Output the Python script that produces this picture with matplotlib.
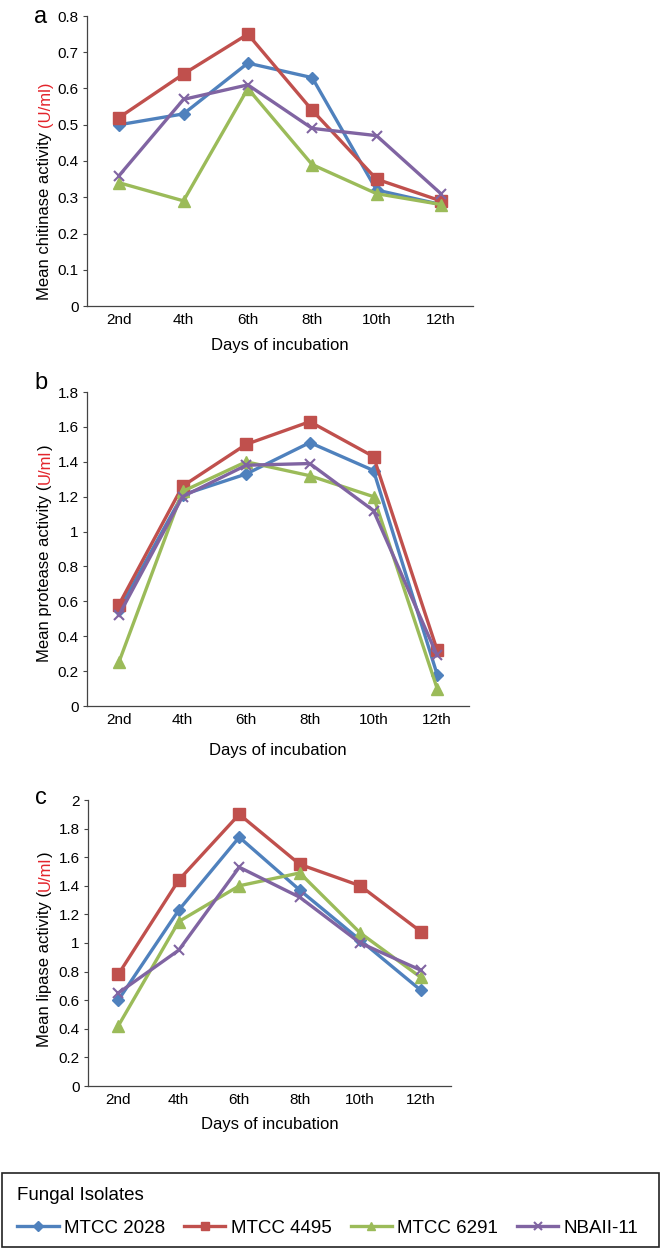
import matplotlib
matplotlib.use("Agg")
import matplotlib.pyplot as plt
from matplotlib.patches import Rectangle
from matplotlib.ticker import MultipleLocator

plt.rcParams['font.family'] = ['Liberation Sans', 'DejaVu Sans']

# Datos
dias = ["2nd", "4th", "6th", "8th", "10th", "12th"]
aislados = ["MTCC 2028", "MTCC 4495", "MTCC 6291", "NBAII-11"]

quitinasa = {
    "MTCC 2028": [0.50, 0.53, 0.67, 0.63, 0.32, 0.28],
    "MTCC 4495": [0.52, 0.64, 0.75, 0.54, 0.35, 0.29],
    "MTCC 6291": [0.34, 0.29, 0.60, 0.39, 0.31, 0.28],
    "NBAII-11": [0.36, 0.57, 0.61, 0.49, 0.47, 0.31],
}
proteasa = {
    "MTCC 2028": [0.55, 1.21, 1.33, 1.51, 1.35, 0.18],
    "MTCC 4495": [0.58, 1.26, 1.50, 1.63, 1.43, 0.32],
    "MTCC 6291": [0.25, 1.23, 1.40, 1.32, 1.20, 0.10],
    "NBAII-11": [0.52, 1.20, 1.38, 1.39, 1.12, 0.29],
}
lipasa = {
    "MTCC 2028": [0.60, 1.23, 1.74, 1.37, 1.02, 0.67],
    "MTCC 4495": [0.78, 1.44, 1.90, 1.55, 1.40, 1.08],
    "MTCC 6291": [0.42, 1.15, 1.40, 1.49, 1.07, 0.76],
    "NBAII-11": [0.65, 0.95, 1.53, 1.32, 1.00, 0.81],
}

colores = {"MTCC 2028": "#4F81BD", "MTCC 4495": "#C0504D",
           "MTCC 6291": "#9BBB59", "NBAII-11": "#8064A2"}
marcadores = {"MTCC 2028": ("D", 6), "MTCC 4495": ("s", 8),
              "MTCC 6291": ("^", 8), "NBAII-11": ("x", 7)}

W, H = 661, 1250
fig = plt.figure(figsize=(W / 100, H / 100), dpi=100)


def px(x0, y_top, x1, y_bot):
    return [x0 / W, 1 - y_bot / H, (x1 - x0) / W, (y_bot - y_top) / H]


# paneles: (datos, caja, ymax, paso, nombre, letra, y letra, y etiqueta, y eje x, parentesis rojo)
paneles = [
    (quitinasa, px(87, 16, 473, 306), 0.8, 0.1, "chitinase", "a", 17, 300, 346, True),
    (proteasa, px(87, 392, 469, 706), 1.8, 0.2, "protease", "b", 383, 662, 750, False),
    (lipasa, px(88, 800, 451, 1086), 2.0, 0.2, "lipase", "c", 798, 1047, 1124, False),
]

for datos, caja, ymax, paso, enzima, letra, yl, ylab, yx, rojo in paneles:
    ax = fig.add_axes(caja)
    for a in aislados:
        m, ms = marcadores[a]
        ax.plot(range(len(dias)), datos[a], color=colores[a], lw=2.4,
                marker=m, markersize=ms, mew=1.5 if m == "x" else 1,
                mec=colores[a], label=a)
    ax.set_xlim(-0.5, len(dias) - 0.5)
    ax.set_ylim(0, ymax)
    ax.yaxis.set_major_locator(MultipleLocator(paso))
    ax.yaxis.set_major_formatter(plt.FuncFormatter(lambda v, p: "%g" % round(v, 2)))
    ax.set_xticks(range(len(dias)))
    ax.set_xticklabels(dias)
    ax.tick_params(axis="x", length=0, pad=5, labelsize=11)
    ax.tick_params(axis="y", length=3, width=0.8, pad=3, labelsize=11, color="#444444")
    for s in ["top", "right"]:
        ax.spines[s].set_visible(False)
    for s in ["left", "bottom"]:
        ax.spines[s].set_color("#444444")
        ax.spines[s].set_linewidth(0.9)

    # etiquetas
    fig.text(0.5 * (caja[0] * 2 + caja[2]), 1 - yx / H, "Days of incubation",
             ha="center", va="center", fontsize=12)
    fig.text(41 / W, 1 - yl / H, letra, ha="center", va="center", fontsize=17)

    if rojo:
        t1 = fig.text(45 / W, 1 - ylab / H, "Mean %s activity " % enzima,
                      rotation=90, ha="center", va="bottom", fontsize=12)
        ax.annotate("(U/ml)", xy=(0.5, 1), xycoords=t1, rotation=90, ha="center",
                    va="bottom", fontsize=12, color="#E3242B", annotation_clip=False)
    else:
        t1 = fig.text(45 / W, 1 - ylab / H, "Mean %s activity (" % enzima,
                      rotation=90, ha="center", va="bottom", fontsize=12)
        t2 = ax.annotate("U/ml", xy=(0.5, 1), xycoords=t1, rotation=90, ha="center",
                         va="bottom", fontsize=12, color="#E3242B", annotation_clip=False)
        ax.annotate(")", xy=(0.5, 1), xycoords=t2, rotation=90, ha="center",
                    va="bottom", fontsize=12, annotation_clip=False)

# leyenda
handles, labels = ax.get_legend_handles_labels()
fig.patches.append(Rectangle((2 / W, 1 - 1247 / H), 657 / W, 74 / H,
                             transform=fig.transFigure, fill=False,
                             edgecolor="#222222", linewidth=1.2))
fig.text(17 / W, 1 - 1196 / H, "Fungal Isolates", ha="left", va="center", fontsize=13.5)
fig.legend(handles, labels, loc="center left", bbox_to_anchor=(8 / W, 1 - 1228 / H),
           ncol=4, frameon=False, fontsize=13.5, handlelength=2.2,
           handletextpad=0.3, columnspacing=1.0, borderpad=0, markerscale=0.8)

fig.savefig("out.png", dpi=100)
